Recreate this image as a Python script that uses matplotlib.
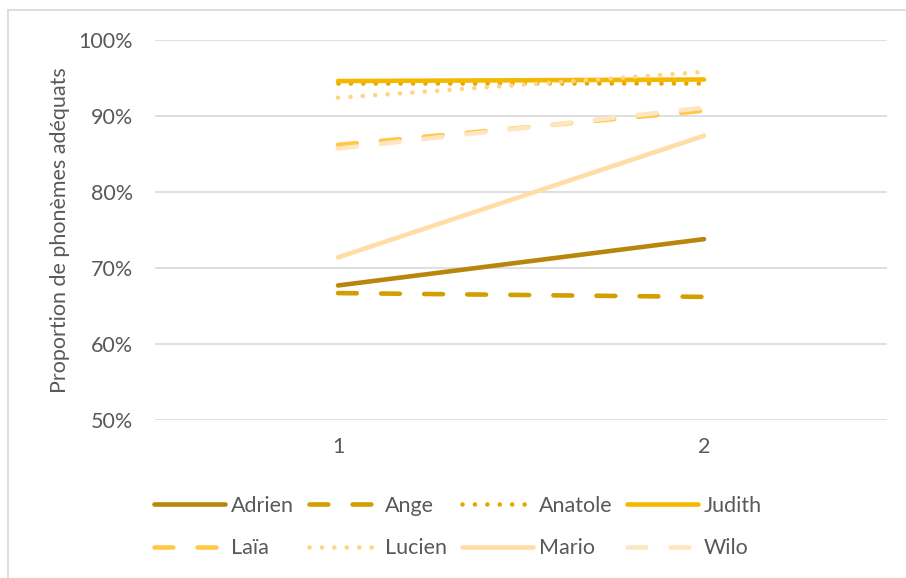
import matplotlib.pyplot as plt
from matplotlib.lines import Line2D

# session values
sessions = [1, 2]
names = ['Adrien', 'Ange', 'Anatole', 'Judith', 'Laïa', 'Lucien', 'Mario', 'Wilo']
adrien = [0.677, 0.738]
ange = [0.667, 0.662]
anatole = [0.943, 0.943]
judith = [0.946, 0.948]
laia = [0.862, 0.907]
lucien = [0.924, 0.958]
mario = [0.714, 0.874]
wilo = [0.857, 0.911]

series = [adrien, ange, anatole, judith, laia, lucien, mario, wilo]
colors = ['#B8860A', '#D29E00', '#E2A800', '#F5B800',
          '#FFC845', '#FFD485', '#FFDEA6', '#FFE6C2']
dash = (0, (4.1, 5.3))
dot = (0, (0.01, 2.7))
styles = ['-', dash, dot, '-', dash, dot, '-', dash]

plt.rcParams['font.family'] = ['Lato', 'DejaVu Sans']
txt = '#595959'
lw = 3.3
fs = 15.5

fig = plt.figure(figsize=(9.06, 5.78), dpi=100)
ax = fig.add_axes([155/906, 1 - 420/578, 732/906, 380/578])

for vals, c, ls in zip(series, colors, styles):
    ax.plot(sessions, vals, color=c, linestyle=ls, linewidth=lw,
            solid_capstyle='round', dash_capstyle='round')

ax.set_xlim(0.5, 2.5)
ax.set_ylim(0.5, 1.0)
ax.set_yticks([0.5, 0.6, 0.7, 0.8, 0.9, 1.0])
ax.set_yticklabels(['50%', '60%', '70%', '80%', '90%', '100%'])
ax.set_xticks(sessions)
ax.set_xticklabels([str(s) for s in sessions])
ax.grid(axis='y', color='#D9D9D9', linewidth=1.2)
ax.set_axisbelow(True)
for s in ax.spines.values():
    s.set_visible(False)
ax.tick_params(length=0, labelsize=fs, colors=txt)
ax.tick_params(axis='y', pad=16)
ax.tick_params(axis='x', pad=12)
ax.set_ylabel('Proportion de phonèmes adéquats', fontsize=fs, color=txt, labelpad=6)

# legend, row-major order in 4 columns
handles = [Line2D([], [], color=c, linestyle=ls, linewidth=lw,
                  solid_capstyle='round', dash_capstyle='round')
           for c, ls in zip(colors, styles)]
order = [0, 4, 1, 5, 2, 6, 3, 7]
fig.legend([handles[i] for i in order], [names[i] for i in order],
           ncol=4, loc='center', bbox_to_anchor=(458/906, 1 - 527/578),
           frameon=False, fontsize=fs, labelcolor=txt,
           handlelength=3.3, handletextpad=0.25, columnspacing=0.7,
           labelspacing=1.05)

# chart frame
fig.add_artist(Line2D([8/906, 8/906], [0, 1 - 10/578], color='#D9D9D9', linewidth=1.2))
fig.add_artist(Line2D([8/906, 1], [1 - 10/578, 1 - 10/578], color='#D9D9D9', linewidth=1.2))

fig.savefig('out.png', dpi=100)
